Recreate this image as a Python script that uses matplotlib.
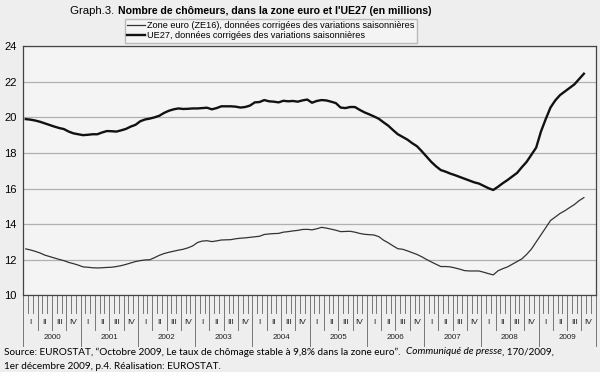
import matplotlib
matplotlib.use("Agg")
import matplotlib.pyplot as plt
import numpy as np

# données mensuelles, janvier 2000 - octobre 2009 (en millions)
ue27 = [19.90, 19.87, 19.82, 19.75, 19.66, 19.57, 19.48, 19.40, 19.34, 19.20, 19.10, 19.05,
        19.00, 19.02, 19.05, 19.05, 19.15, 19.23, 19.22, 19.20, 19.27, 19.35, 19.48, 19.58,
        19.78, 19.88, 19.93, 20.00, 20.09, 20.25, 20.37, 20.45, 20.50, 20.47, 20.48, 20.50,
        20.50, 20.52, 20.54, 20.45, 20.52, 20.62, 20.62, 20.62, 20.60, 20.55, 20.58, 20.66,
        20.84, 20.86, 20.97, 20.90, 20.88, 20.84, 20.93, 20.90, 20.92, 20.88, 20.95, 21.00,
        20.82, 20.92, 20.97, 20.95, 20.88, 20.80, 20.55, 20.52, 20.58, 20.58, 20.42, 20.28,
        20.17, 20.05, 19.92, 19.72, 19.53, 19.28, 19.05, 18.90, 18.75, 18.55, 18.38, 18.10,
        17.80, 17.50, 17.25, 17.04, 16.95, 16.84, 16.75, 16.65, 16.55, 16.45, 16.35, 16.28,
        16.15, 16.02, 15.92, 16.10, 16.30, 16.48, 16.68, 16.88, 17.20, 17.50, 17.90, 18.30,
        19.20, 19.90, 20.55, 20.95, 21.25, 21.45, 21.65, 21.85, 22.15, 22.45]
ze16 = [12.61, 12.55, 12.47, 12.38, 12.26, 12.18, 12.10, 12.02, 11.95, 11.85, 11.78, 11.70,
        11.60, 11.58, 11.55, 11.54, 11.55, 11.57, 11.58, 11.62, 11.67, 11.74, 11.82, 11.90,
        11.95, 11.99, 12.00, 12.12, 12.25, 12.35, 12.42, 12.48, 12.54, 12.59, 12.67, 12.78,
        12.97, 13.05, 13.07, 13.02, 13.06, 13.11, 13.12, 13.13, 13.18, 13.21, 13.23, 13.26,
        13.29, 13.32, 13.42, 13.45, 13.47, 13.48, 13.55, 13.58, 13.62, 13.65, 13.70, 13.71,
        13.68, 13.74, 13.82, 13.78, 13.72, 13.66, 13.58, 13.59, 13.60, 13.55, 13.48, 13.43,
        13.41, 13.39, 13.30, 13.10, 12.95, 12.78, 12.62, 12.59, 12.50, 12.40, 12.30, 12.17,
        12.02, 11.88, 11.75, 11.62, 11.62, 11.60, 11.54, 11.47, 11.39, 11.37, 11.37, 11.37,
        11.30, 11.22, 11.15, 11.38, 11.50, 11.60, 11.75, 11.90, 12.05, 12.30, 12.60, 13.00,
        13.40, 13.80, 14.20, 14.40, 14.60, 14.75, 14.93, 15.10, 15.32, 15.49]
years = ['2000', '2001', '2002', '2003', '2004', '2005', '2006', '2007', '2008', '2009']
quarters = ['I', 'II', 'III', 'IV']
yticks = [10, 12, 14, 16, 18, 20, 22, 24]

label_ze = 'Zone euro (ZE16), données corrigées des variations saisonnières'
label_ue = 'UE27, données corrigées des variations saisonnières'

narrow = ['Liberation Sans Narrow', 'Liberation Sans', 'DejaVu Sans']
plt.rcParams['font.family'] = narrow

fig = plt.figure(figsize=(6, 3.72), dpi=100, facecolor='#eeeeee')
ax = fig.add_axes([0.039, 0.206, 0.954, 0.670])
ax.set_facecolor('#f4f4f4')
r = fig.canvas.get_renderer()

nmois = len(years) * 12
x = np.arange(len(ue27)) + 0.5
ax.plot(x, ze16, color='#333333', lw=0.9, label=label_ze)
ax.plot(x, ue27, color='#111111', lw=1.7, label=label_ue)

ax.set_xlim(0, nmois)
ax.set_ylim(10, 24)
ax.set_yticks(yticks)
ax.set_yticklabels([str(v) for v in yticks], fontsize=8, family=narrow)
ax.tick_params(axis='y', length=0, pad=5)
ax.set_xticks([])
ax.grid(axis='y', color='#b0b0b0', lw=0.9)
ax.set_axisbelow(True)
for s in ax.spines.values():
    s.set_color('#444444')
    s.set_linewidth(0.9)

# graduations de l'axe des x : mois, trimestres, années
tr = ax.get_xaxis_transform()
for m in range(nmois + 1):
    if m % 12 == 0:
        bas = -0.205
    elif m % 3 == 0:
        bas = -0.14
    else:
        bas = -0.07
    ax.plot([m, m], [0, bas], transform=tr, color='#777777', lw=0.7, clip_on=False)
for i, an in enumerate(years):
    for q, nom in enumerate(quarters):
        ax.text(i * 12 + q * 3 + 1.5, -0.11, nom, transform=tr, ha='center', va='center',
                fontsize=6, color='#222222')
    ax.text(i * 12 + 6, -0.17, an, transform=tr, ha='center', va='center',
            fontsize=5.8, color='#222222')

leg = fig.legend(loc='upper left', bbox_to_anchor=(0.2, 0.962), fontsize=6.6,
                 handlelength=2.0, handletextpad=0.2, borderpad=0.25, labelspacing=0.15,
                 fancybox=False, framealpha=1, facecolor='#f4f4f4', edgecolor='#bbbbbb')

# titre : partie normale puis partie en gras
g = fig.text(0.117, 0.970, 'Graph.3. ', fontsize=8.2, ha='left', va='center')
bb = g.get_window_extent(renderer=r)
fig.text(bb.x1 / fig.bbox.width, 0.970,
         "Nombre de chômeurs, dans la zone euro et l'UE27 (en millions)",
         fontsize=7.6, weight='bold', ha='left', va='center')

# source sous le graphique
src = ['Lato', 'DejaVu Sans']
t1 = fig.text(0.007, 0.054, 'Source: EUROSTAT, \u201cOctobre 2009, Le taux de chômage stable à 9,8% dans la zone euro\u201d.  ',
              fontsize=7.2, family=src, ha='left', va='center')
bb = t1.get_window_extent(renderer=r)
t2 = fig.text(bb.x1 / fig.bbox.width, 0.054, 'Communiqué de presse', fontsize=7.2, family=src,
              style='italic', ha='left', va='center')
bb = t2.get_window_extent(renderer=r)
fig.text(bb.x1 / fig.bbox.width, 0.054, ', 170/2009,', fontsize=7.2, family=src,
         ha='left', va='center')
fig.text(0.007, 0.016, '1er décembre 2009, p.4. Réalisation: EUROSTAT.', fontsize=7.2,
         family=src, ha='left', va='center')

fig.savefig('out.png', dpi=100, facecolor=fig.get_facecolor())
